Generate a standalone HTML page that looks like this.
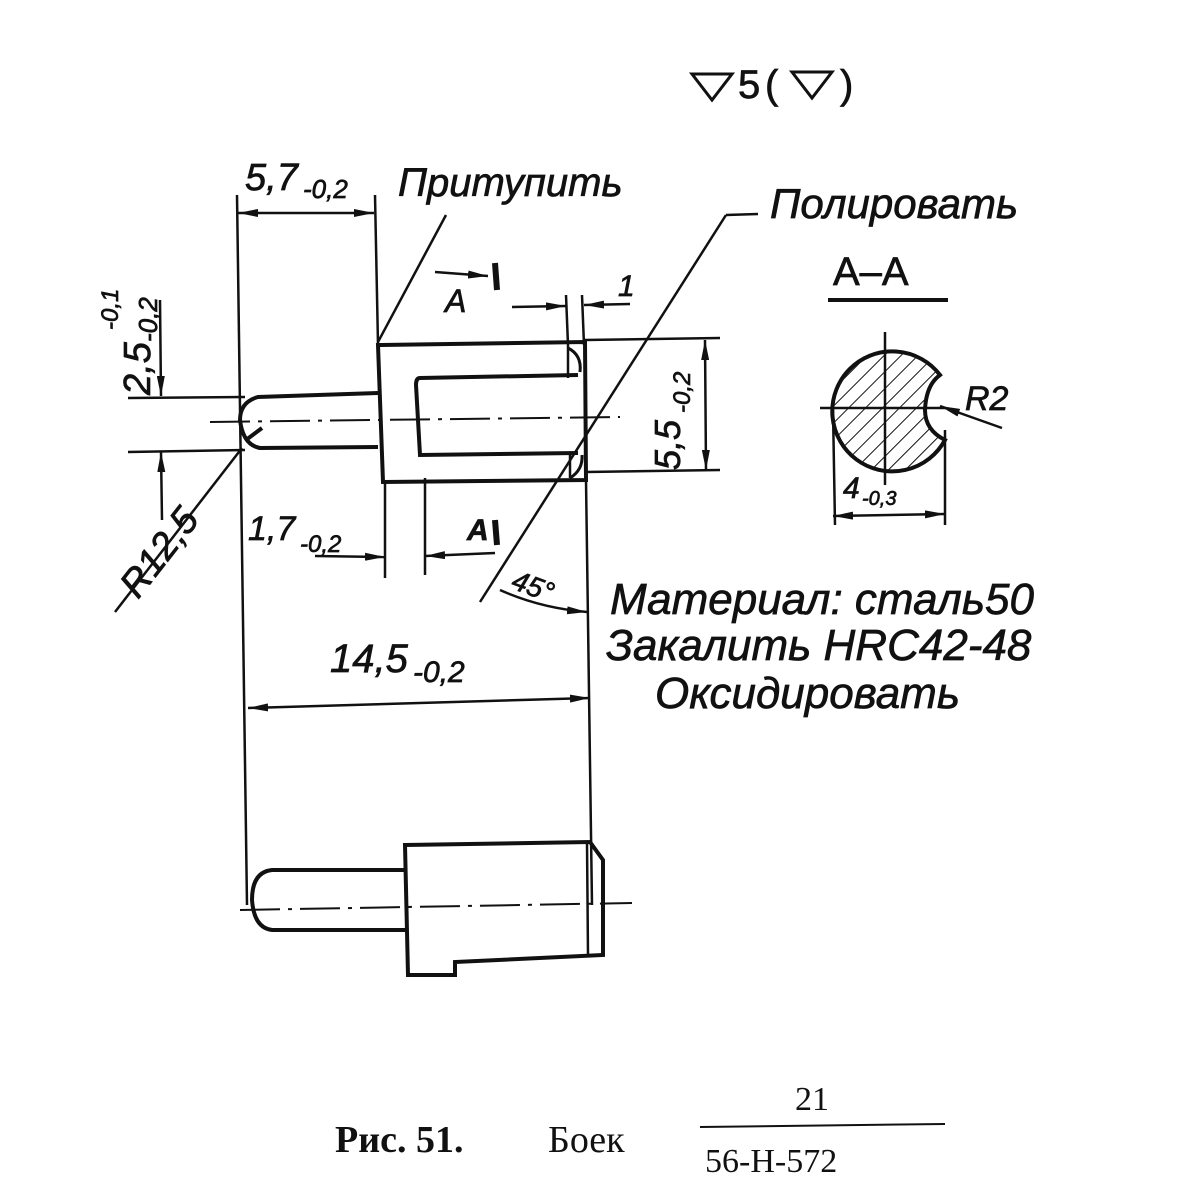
<!DOCTYPE html>
<html><head><meta charset="utf-8"><style>
html,body{margin:0;padding:0;background:#fff;}
svg{display:block}
text{font-family:"Liberation Sans",sans-serif;font-style:italic;fill:#111;stroke:#111;stroke-width:0.7}
</style></head><body>
<svg width="1197" height="1200" viewBox="0 0 1197 1200" xmlns="http://www.w3.org/2000/svg">
<defs>
<marker id="a" viewBox="0 0 20 8" refX="20" refY="4" markerWidth="20" markerHeight="8" markerUnits="userSpaceOnUse" orient="auto-start-reverse"><path d="M0,0 L20,4 L0,8z" fill="#111"/></marker>
<pattern id="h" width="12" height="12" patternUnits="userSpaceOnUse" patternTransform="rotate(45)"><line x1="0" y1="0" x2="0" y2="12" stroke="#111" stroke-width="2"/></pattern>
</defs>
<g stroke="#111" fill="none" stroke-width="2.5">
<line x1="237" y1="195" x2="247" y2="905"/>
<line x1="375" y1="195" x2="378" y2="345"/>
<line x1="238" y1="213" x2="374" y2="213" marker-start="url(#a)" marker-end="url(#a)"/>
<path d="M378 345 L585 342 L586 480 L383 482 Z" stroke-width="4"/>
<path d="M578 375 L420 378 Q416 378 416 385 L420 455 L578 453" stroke-width="4"/>
<line x1="568" y1="345" x2="568" y2="378"/>
<path d="M568 348 Q582 355 580 372" stroke-width="3"/>
<path d="M570 478 Q583 470 582 455" stroke-width="3"/>
<line x1="570" y1="455" x2="570" y2="478"/>
<path d="M378 393 L258 397 Q240 402 240 420 Q243 445 260 448 L378 447" stroke-width="4"/>
<line x1="128" y1="398" x2="245" y2="397"/>
<line x1="128" y1="452" x2="245" y2="450"/>
<line x1="210" y1="422" x2="620" y2="417" stroke-dasharray="40,8,4,8" stroke-width="2"/>
<line x1="160" y1="300" x2="161" y2="396" marker-end="url(#a)"/>
<line x1="162" y1="520" x2="161" y2="452" marker-end="url(#a)"/>
<line x1="115" y1="612" x2="242" y2="448"/>
<line x1="262" y1="428" x2="246" y2="440" stroke-width="4"/>
<line x1="378" y1="342" x2="446" y2="215"/>
<line x1="480" y1="602" x2="726" y2="215"/>
<line x1="726" y1="215" x2="758" y2="214"/>
<line x1="585" y1="340" x2="720" y2="338"/>
<line x1="586" y1="472" x2="720" y2="470"/>
<line x1="705" y1="340" x2="706" y2="470" marker-start="url(#a)" marker-end="url(#a)"/>
<line x1="566" y1="295" x2="568" y2="345"/>
<line x1="582" y1="295" x2="584" y2="345"/>
<line x1="512" y1="307" x2="566" y2="306" marker-end="url(#a)"/>
<line x1="630" y1="304" x2="584" y2="305" marker-end="url(#a)"/>
<line x1="435" y1="272" x2="488" y2="276" marker-end="url(#a)"/>
<line x1="495" y1="263" x2="497" y2="290" stroke-width="6"/>
<line x1="495" y1="520" x2="497" y2="545" stroke-width="6"/>
<line x1="385" y1="482" x2="385" y2="578"/>
<line x1="425" y1="478" x2="425" y2="575"/>
<line x1="315" y1="556" x2="385" y2="557" marker-end="url(#a)"/>
<line x1="495" y1="553" x2="425" y2="556" marker-end="url(#a)"/>
<line x1="586" y1="480" x2="592" y2="905"/>
<path d="M500 590 Q540 608 587 612" marker-end="url(#a)"/>
<line x1="248" y1="708" x2="590" y2="698" marker-start="url(#a)" marker-end="url(#a)"/>
<path d="M405 870 L272 870 Q252 872 252 900 Q254 928 272 930 L405 930" stroke-width="4"/>
<path d="M405 845 L590 842 L603 860 L603 955 L455 962 L455 975 L408 975 Z" stroke-width="4"/>
<line x1="587" y1="843" x2="588" y2="955"/>
<line x1="240" y1="910" x2="632" y2="903" stroke-dasharray="40,8,4,8" stroke-width="2"/>
<line x1="828" y1="300" x2="948" y2="300" stroke-width="4"/>
<path d="M940 375 A60 60 0 1 0 945 440 Q925 430 925 410 Q926 385 940 375 Z" fill="url(#h)" stroke-width="4"/>
<line x1="885" y1="332" x2="885" y2="485"/>
<line x1="820" y1="408" x2="945" y2="408"/>
<line x1="1002" y1="428" x2="940" y2="406" marker-end="url(#a)"/>
<line x1="833" y1="410" x2="835" y2="525"/>
<line x1="945" y1="430" x2="945" y2="525"/>
<line x1="833" y1="516" x2="945" y2="514" marker-start="url(#a)" marker-end="url(#a)"/>
<line x1="700" y1="1127" x2="945" y2="1124" stroke-width="2"/>
</g>
<g stroke="#111" stroke-width="3" fill="none">
<path d="M692 74 L732 74 L712 100 Z"/>
<path d="M792 72 L832 72 L812 98 Z"/>
</g>
<text x="738" y="98" font-size="40" style="font-style:normal">5</text>
<text x="765" y="98" font-size="40" style="font-style:normal">(</text>
<text x="840" y="98" font-size="40" style="font-style:normal">)</text>
<text x="245" y="190" font-size="38">5,7</text>
<text x="303" y="198" font-size="26">-0,2</text>
<text x="398" y="196" font-size="40">Притупить</text>
<text x="770" y="218" font-size="42">Полировать</text>
<text x="833" y="285" font-size="40" style="font-style:normal">A–A</text>
<text x="445" y="312" font-size="32">A</text>
<text x="618" y="296" font-size="30">1</text>
<text transform="translate(150,395) rotate(-90)" font-size="38">2,5</text>
<text transform="translate(118,330) rotate(-90)" font-size="24">-0,1</text>
<text transform="translate(157,342) rotate(-90)" font-size="26">-0,2</text>
<text transform="translate(680,470) rotate(-90)" font-size="36">5,5</text>
<text transform="translate(690,413) rotate(-90)" font-size="24">-0,2</text>
<text transform="translate(138,600) rotate(-52)" font-size="38">R12,5</text>
<text x="248" y="540" font-size="34">1,7</text>
<text x="300" y="552" font-size="24">-0,2</text>
<text x="467" y="540" font-size="30" font-weight="bold">A</text>
<text transform="translate(510,588) rotate(20)" font-size="28">45°</text>
<text x="965" y="410" font-size="34">R2</text>
<text x="843" y="498" font-size="30">4</text>
<text x="862" y="505" font-size="20">-0,3</text>
<text x="330" y="672" font-size="40">14,5</text>
<text x="413" y="682" font-size="30">-0,2</text>
<text x="610" y="614" font-size="44">Материал: сталь50</text>
<text x="606" y="660" font-size="44">Закалить HRC42-48</text>
<text x="655" y="708" font-size="44">Оксидировать</text>
<text x="335" y="1152" font-size="38" style="font-family:'Liberation Serif',serif;font-style:normal;stroke-width:0" font-weight="bold">Рис. 51.</text>
<text x="548" y="1152" font-size="38" style="font-family:'Liberation Serif',serif;font-style:normal;stroke-width:0">Боек</text>
<text x="795" y="1110" font-size="34" style="font-family:'Liberation Serif',serif;font-style:normal;stroke-width:0">21</text>
<text x="705" y="1172" font-size="34" style="font-family:'Liberation Serif',serif;font-style:normal;stroke-width:0">56-Н-572</text>
</svg>
</body></html>
